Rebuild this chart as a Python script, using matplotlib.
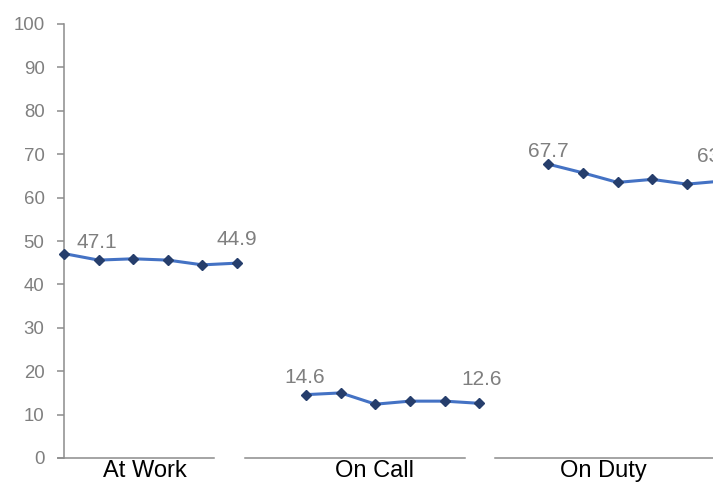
import matplotlib
matplotlib.use("Agg")
import matplotlib.pyplot as plt

# Category groups and their six readings each
groups = ["At Work", "On Call", "On Duty"]
at_work = [47.1, 45.6, 45.9, 45.6, 44.5, 44.9]
on_call = [14.6, 15.0, 12.4, 13.1, 13.1, 12.6]
on_duty = [67.7, 65.7, 63.5, 64.2, 63.1, 63.8]
series = [at_work, on_call, on_duty]

y_ticks = list(range(0, 101, 10))

LINE = "#4472C4"
MARK = "#263E6C"
GREY = "#7F7F7F"
AXIS = "#8C8C8C"

plt.rcParams["font.family"] = ["Liberation Sans", "DejaVu Sans"]

W, H = 713, 488
fig = plt.figure(figsize=(W / 100, H / 100), dpi=100)

# axes in pixel terms: x index 0 at px 64, step 34.6 px; y 0 at px 458, 100 at px 24
step = 34.6
left_px, right_px = 64, 64 + 19 * step
bottom_px, top_px = 458, 24
ax = fig.add_axes([left_px / W, (H - bottom_px) / H,
                   (right_px - left_px) / W, (bottom_px - top_px) / H])
ax.set_xlim(0, 19)
ax.set_ylim(0, 100)

# one line per group, with a blank slot between groups
for g, vals in enumerate(series):
    xs = [7 * g + i for i in range(len(vals))]
    ax.plot(xs, vals, color=LINE, lw=2.2, marker="D", ms=4.8,
            mfc=MARK, mec=MARK, clip_on=False, zorder=3)

# value labels on first and last point of each group (offsets in pixels)
label_offsets = {
    (0, 0): (33, 6), (0, 5): (0, 18),
    (1, 0): (-2, 12), (1, 5): (2, 18),
    (2, 0): (0, 7), (2, 5): (-4, 19),
}
for (g, i), (dx, dy) in label_offsets.items():
    v = series[g][i]
    ax.annotate(f"{v:.1f}", (7 * g + i, v), xytext=(dx, dy),
                textcoords="offset pixels", ha="center", va="baseline",
                fontsize=15, color=GREY, annotation_clip=False)

# y axis
ax.set_yticks(y_ticks)
ax.tick_params(axis="y", colors=AXIS, labelcolor=GREY, labelsize=13.4,
               length=5, width=1.1, pad=9)
ax.tick_params(axis="x", bottom=False, labelbottom=False)
for s in ("top", "right", "bottom"):
    ax.spines[s].set_visible(False)
ax.spines["left"].set_color(AXIS)
ax.spines["left"].set_linewidth(1.1)

# grouped category axis: separate baseline segments with a label under each
segments = [(-0.17, 4.34), (5.23, 11.59), (12.46, 20.0)]
label_x = [2.34, 8.96, 15.58]
for (a, b), lx, name in zip(segments, label_x, groups):
    ax.plot([a, b], [0, 0], color=AXIS, lw=1.1, clip_on=False, zorder=2)
    ax.annotate(name, (lx, 0), xytext=(0, -19), textcoords="offset pixels",
                ha="center", va="baseline", fontsize=17, color="black",
                annotation_clip=False)

fig.savefig("out.png", dpi=100)
